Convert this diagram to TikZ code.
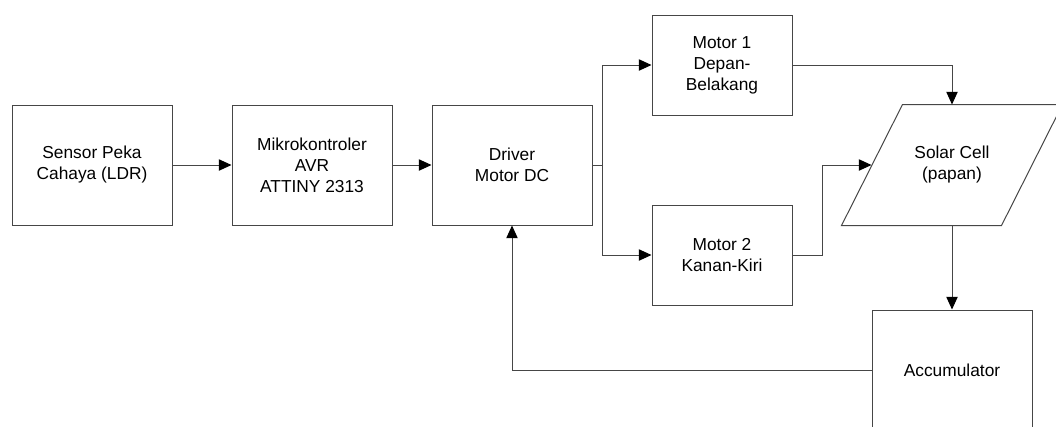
\documentclass[tikz,border=0pt]{standalone}
\usepackage{fontspec}
\setmainfont{Liberation Sans}
\usepackage{xcolor}
\definecolor{garis}{RGB}{70, 70, 70}
\usepackage{tikz}
\usetikzlibrary{
    shapes.geometric,
    arrows.meta,
    positioning,
    calc
}

\begin{document}
\begin{tikzpicture}[
    x=0.75pt, y=-0.75pt,
    blok/.style={
        rectangle, draw=garis, line width=0.75pt,
        font=\fontsize{13}{15.75}\selectfont,
        align=center, inner sep=2pt,
        minimum width=120pt, minimum height=90pt
    },
    blokMotor/.style={
        blok, minimum width=105pt, minimum height=75pt
    },
    panel/.style={
        blok, draw=none, minimum width=165pt
    },
    panah/.style={
        -{Triangle[length=9.5pt, width=8.5pt, color=black]},
        line width=0.75pt, draw=garis
    },
    garisLurus/.style={
        line width=0.75pt, draw=garis
    }
]
    \clip (0, 0) rectangle (1056, 426);

    % Blocks
    \node[blok] (sensor) at (92, 165) {Sensor Peka\\Cahaya (LDR)};
    \node[blok] (mikro) at (312, 165) {Mikrokontroler\\AVR\\ATTINY 2313};
    \node[blok] (driver) at (512, 165) {Driver\\Motor DC};
    \node[blokMotor] (motorA) at (722, 65) {Motor 1\\Depan-\\Belakang};
    \node[blokMotor] (motorB) at (722, 255) {Motor 2\\Kanan-Kiri};
    \node[panel] (solar) at (952, 165) {Solar Cell\\(papan)};
    \node[blok] (aki) at (952, 370) {Accumulator};

    % Solar panel outline (parallelogram)
    \draw[garisLurus] (solar.south west) -- ++(160, 0) -- (solar.north east)
        -- ++(-160, 0) -- cycle;
    \coordinate (solarKiri) at ($(solar.west)+(30, 0)$);

    % Branch points
    \coordinate (cabang) at (602, 165);
    \coordinate (belok) at (822, 255);

    % Connections
    \draw[panah] (sensor.east) -- (mikro.west);
    \draw[panah] (mikro.east) -- (driver.west);
    \draw[garisLurus] (driver.east) -- (cabang);
    \draw[panah] (cabang) |- (motorA.west);
    \draw[panah] (cabang) |- (motorB.west);

    \draw[panah] (motorA.east) -| (solar.north);
    \draw[panah] (motorB.east) -- (belok) |- (solarKiri);

    \draw[panah] (solar.south) -- (aki.north);
    \draw[panah] (aki.west) -| (driver.south);

\end{tikzpicture}
\end{document}
